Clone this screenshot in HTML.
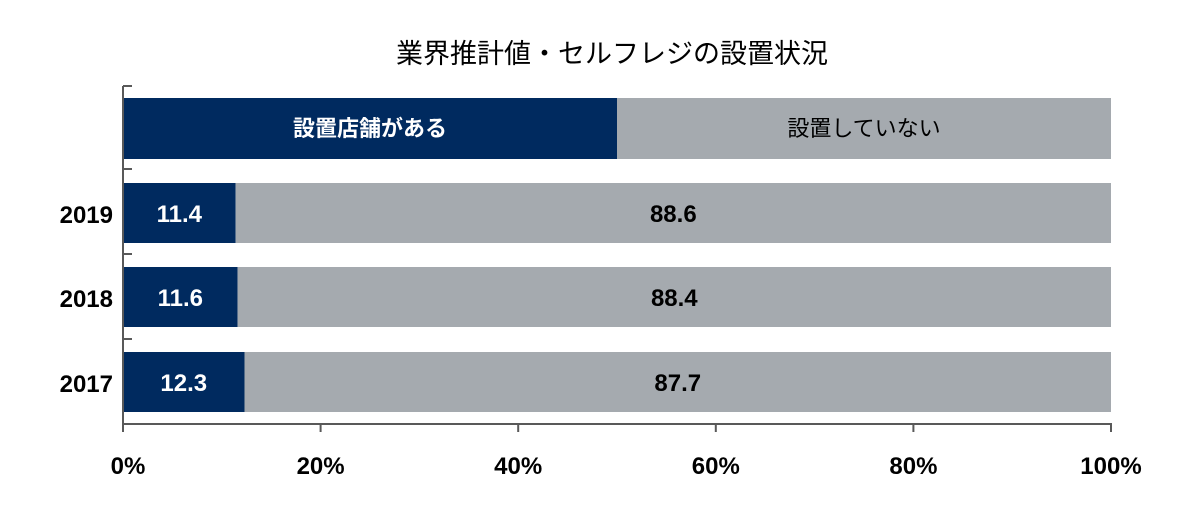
<!DOCTYPE html>
<html><head><meta charset="utf-8"><style>
body{margin:0;background:#fff;width:1200px;height:516px;overflow:hidden}
svg text{font-family:"Liberation Sans","Noto Sans CJK JP",sans-serif}
</style></head><body>
<svg width="1200" height="516">
<text x="612" y="63" text-anchor="middle" font-size="27" fill="#000">業界推計値・セルフレジの設置状況</text>
<g id="g"></g>
</svg>
<script>
const years=["2019","2018","2017"];
const has=[11.4,11.6,12.3];
const hasNot=[88.6,88.4,87.7];
const ticks=["0%","20%","40%","60%","80%","100%"];
const tickVals=[0,20,40,60,80,100];
const legend=["設置店舗がある","設置していない"];
const NS="http://www.w3.org/2000/svg",g=document.getElementById('g');
const x0=123,x1=1111;const X=v=>x0+(x1-x0)*v/100;
const rowTop=[183,267,352],bh=60;
function el(t,a,txt){const e=document.createElementNS(NS,t);for(const k in a)e.setAttribute(k,a[k]);if(txt!=null)e.textContent=txt;g.appendChild(e);return e;}
// legend row
let e=el('rect',{x:X(0),y:98,width:X(50)-X(0),height:61,fill:'#002a5f'});


e=el('rect',{x:X(50),y:98,width:X(100)-X(50),height:61,fill:'#a5aaaf'});


e=el('text',{x:X(25),y:136,'text-anchor':'middle','font-size':22,fill:'#fff','font-weight':'bold'},legend[0]);


e=el('text',{x:X(75),y:136,'text-anchor':'middle','font-size':22,fill:'#000'},legend[1]);


years.forEach((y,i)=>{
 const t=rowTop[i];
 let r=el('rect',{x:X(0),y:t,width:X(has[i])-X(0),height:bh,fill:'#002a5f'});
 
 
 r=el('rect',{x:X(has[i]),y:t,width:X(has[i]+hasNot[i])-X(has[i]),height:bh,fill:'#a5aaaf'});
 
 
 r=el('text',{x:(X(0)+X(has[i]))/2,y:t+39,'text-anchor':'middle','font-size':24,'font-weight':'bold',fill:'#fff'},has[i].toFixed(1));
 
 
 r=el('text',{x:(X(has[i])+X(has[i]+hasNot[i]))/2,y:t+39,'text-anchor':'middle','font-size':24,'font-weight':'bold',fill:'#000'},hasNot[i].toFixed(1));
 
 
 r=el('text',{x:113,y:t+40,'text-anchor':'end','font-size':24,'font-weight':'bold',fill:'#000'},y);
 
 
});
// axes
e=el('line',{x1:123,y1:86,x2:123,y2:432,stroke:'#595959','stroke-width':2});


e=el('line',{x1:122,y1:424,x2:1112,y2:424,stroke:'#595959','stroke-width':2});


[86,169,254,339].forEach(yy=>{const l=el('line',{x1:123,y1:yy,x2:132,y2:yy,stroke:'#595959','stroke-width':2});

});
tickVals.forEach((v,i)=>{
 const l=el('line',{x1:X(v),y1:424,x2:X(v),y2:432,stroke:'#595959','stroke-width':2});
 
 
 const t=el('text',{x:X(v)+(i==0?5:0),y:474,'text-anchor':'middle','font-size':24,'font-weight':'bold',fill:'#000'},ticks[i]);
 
 
});
</script>
</body></html>
